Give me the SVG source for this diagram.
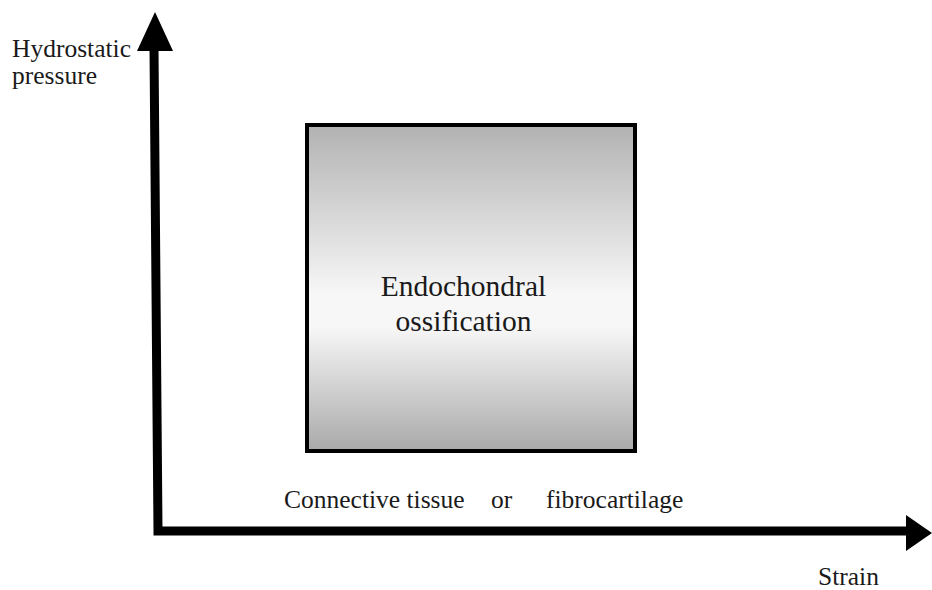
<svg xmlns="http://www.w3.org/2000/svg" width="932" height="590" viewBox="0 0 932 590">
<defs>
<linearGradient id="g" x1="0" y1="0" x2="0" y2="1">
<stop offset="0" stop-color="#b2b2b2"/>
<stop offset="0.52" stop-color="#f7f7f7"/>
<stop offset="0.62" stop-color="#f7f7f7"/>
<stop offset="1" stop-color="#a9a9a9"/>
</linearGradient>
<style>
text{font-family:"Liberation Serif","Times New Roman",serif;fill:#1a1a1a}
.ax{stroke:#000;stroke-width:9;fill:none}
.lb{font-size:25.5px}
</style>
</defs>
<rect width="932" height="590" fill="#fff"/>
<g id="axes">
<path class="ax" d="M154 48 L158 531 L908 531"/>
<polygon points="155,12 137,51 173,51" fill="#000"/>
<polygon points="932,533 906,515 906,551" fill="#000"/>
</g>
<g id="box">
<rect x="307" y="125" width="328" height="326" fill="url(#g)" stroke="#000" stroke-width="4"/>
<text x="463.5" y="296" font-size="29.5" text-anchor="middle">Endochondral</text>
<text x="463.5" y="331" font-size="29.5" text-anchor="middle">ossification</text>
</g>
<g id="labels">
<text class="lb" x="12" y="57">Hydrostatic</text>
<text class="lb" x="12" y="84">pressure</text>
<text class="lb" x="284" y="508">Connective tissue</text>
<text class="lb" x="491" y="508">or</text>
<text class="lb" x="546" y="508">fibrocartilage</text>
<text class="lb" x="818" y="585">Strain</text>
</g>
</svg>
